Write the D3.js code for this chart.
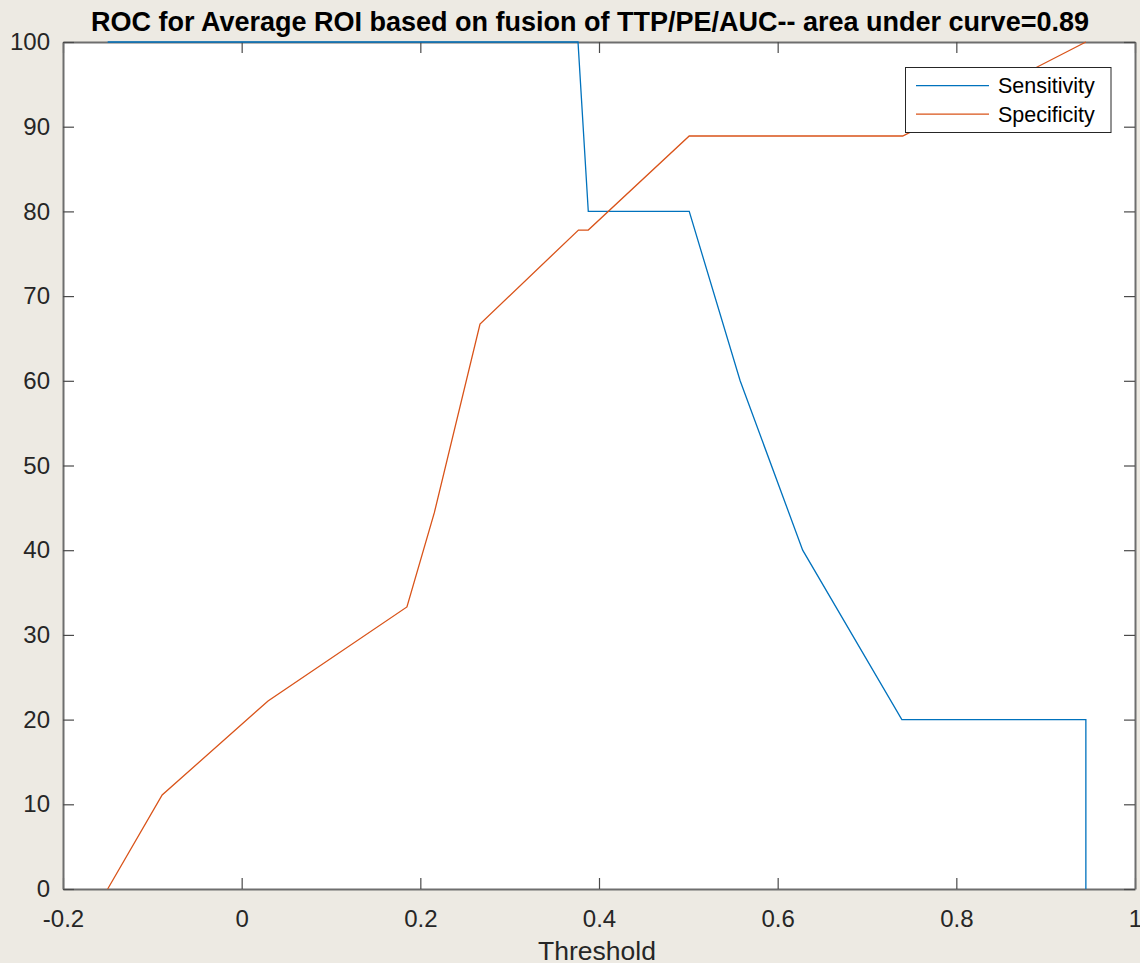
<!DOCTYPE html>
<html><head><meta charset="utf-8">
<script src="https://cdn.jsdelivr.net/npm/d3@7"></script>
<style>
html,body{margin:0;padding:0;background:#EDEAE3;}
svg{display:block;}
text{font-family:"Liberation Sans",Arial,sans-serif;}
</style></head>
<body>
<svg id="chart" width="1140" height="963"></svg>
<script>
const titleText = "ROC for Average ROI based on fusion of TTP/PE/AUC-- area under curve=0.89";
const xLabel = "Threshold";
const seriesNames = ["Sensitivity", "Specificity"];
const xTicks = [-0.2, 0, 0.2, 0.4, 0.6, 0.8, 1];
const yTicks = [0, 10, 20, 30, 40, 50, 60, 70, 80, 90, 100];

const sensX = [-0.15, 0.3765, 0.388, 0.501, 0.558, 0.628, 0.739, 0.945, 0.945];
const sensY = [100, 100, 80, 80, 60, 40, 20, 20, 0];

const specX = [-0.15, -0.089, 0.0295, 0.185, 0.2156, 0.2668, 0.377, 0.388, 0.501, 0.740, 0.945];
const specY = [0, 11.1, 22.2, 33.3, 44.4, 66.7, 77.8, 77.8, 88.9, 88.9, 100];

const colors = ["#0072BD", "#D95319"];

const svg = d3.select("#chart");
const L = 63, R = 1135, T = 42, B = 889;
const x = d3.scaleLinear().domain([-0.2, 1]).range([L, R]);
const y = d3.scaleLinear().domain([0, 100]).range([B, T]);

svg.append("rect").attr("x", L).attr("y", T).attr("width", R - L).attr("height", B - T).attr("fill", "#fff");

const axisColor = "#262626";
const tl = 11;
const fmt = d => String(d);
const gx = svg.append("g").attr("transform", `translate(0,${B})`)
  .call(d3.axisBottom(x).tickValues(xTicks).tickSizeInner(-tl).tickSizeOuter(0).tickPadding(21).tickFormat(fmt));
const gxt = svg.append("g").attr("transform", `translate(0,${T})`)
  .call(d3.axisTop(x).tickValues(xTicks).tickSizeInner(-tl).tickSizeOuter(0).tickFormat(""));
const gy = svg.append("g").attr("transform", `translate(${L},0)`)
  .call(d3.axisLeft(y).tickValues(yTicks).tickSizeInner(-tl).tickSizeOuter(0).tickPadding(13).tickFormat(fmt));
const gyr = svg.append("g").attr("transform", `translate(${R},0)`)
  .call(d3.axisRight(y).tickValues(yTicks).tickSizeInner(-tl).tickSizeOuter(0).tickFormat(""));

[gx, gxt, gy, gyr].forEach(g => {
  g.select(".domain").attr("stroke", "#6e6e6e").attr("stroke-width", 2);
  g.selectAll(".tick line").attr("stroke", "#4a4a4a").attr("stroke-width", 1.2);
  g.selectAll(".tick text").attr("fill", axisColor).attr("font-size", 24)
    .attr("font-family", "Liberation Sans, Arial, sans-serif");
});
gx.selectAll(".tick text").attr("dy", "0.71em");

const line = d3.line().x(d => x(d[0])).y(d => y(d[1]));
const series = [d3.zip(sensX, sensY), d3.zip(specX, specY)];
series.forEach((s, i) => {
  svg.append("path").datum(s).attr("d", line).attr("fill", "none")
    .attr("stroke", colors[i]).attr("stroke-width", 1.3);
});

svg.append("text").attr("x", 597).attr("y", 960).attr("text-anchor", "middle")
  .attr("font-size", 26.5).attr("fill", axisColor).text(xLabel);

svg.append("text").attr("x", 590).attr("y", 31).attr("text-anchor", "middle")
  .attr("font-size", 27).attr("font-weight", "bold").attr("fill", "#000").text(titleText);

const lg = svg.append("g");
lg.append("rect").attr("x", 905.5).attr("y", 67.5).attr("width", 205.5).attr("height", 65)
  .attr("fill", "#fff").attr("stroke", "#262626").attr("stroke-width", 1);
seriesNames.forEach((n, i) => {
  const yy = 85.7 + i * 28.5;
  lg.append("line").attr("x1", 916).attr("x2", 989).attr("y1", yy).attr("y2", yy)
    .attr("stroke", colors[i]).attr("stroke-width", 1.3);
  lg.append("text").attr("x", 998).attr("y", yy).attr("dy", "0.35em")
    .attr("font-size", 21.5).attr("fill", "#000").text(n);
});
</script>
</body></html>
